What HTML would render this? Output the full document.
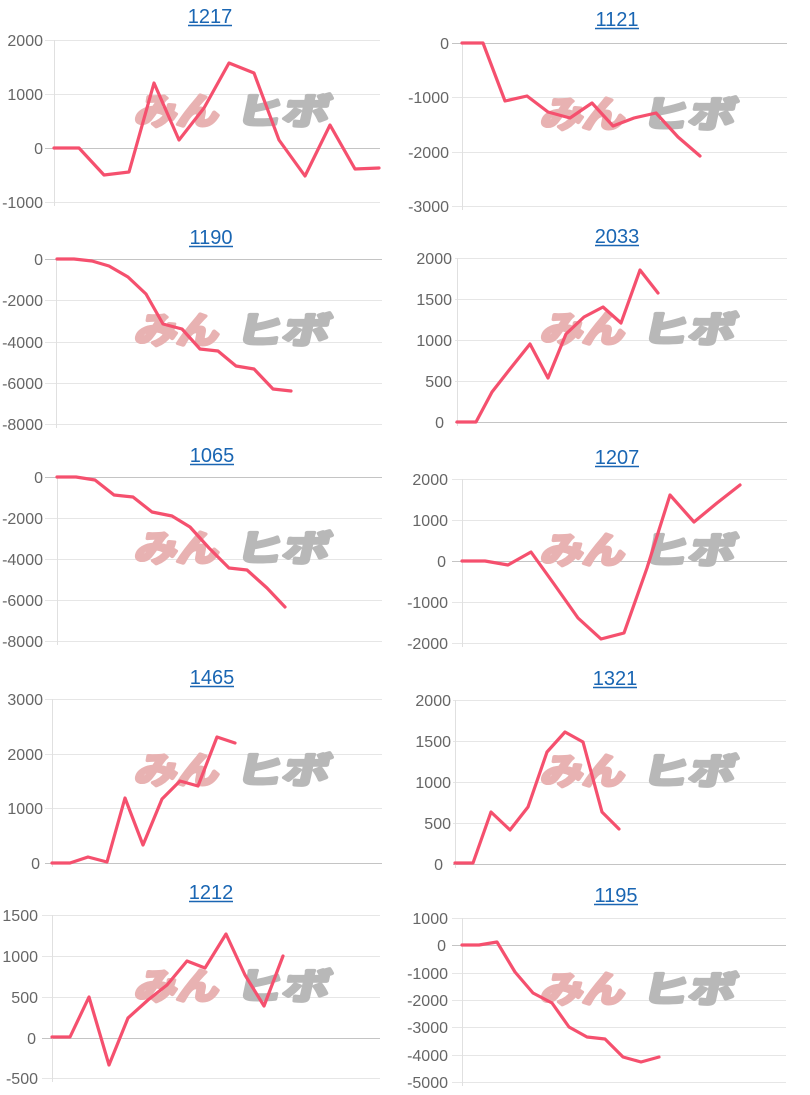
<!DOCTYPE html>
<html><head><meta charset="utf-8"><style>
html,body{margin:0;padding:0;background:#fff;}
svg{display:block;}
.g{stroke:#e6e6e6;stroke-width:1;}
.z{stroke:#c4c4c4;stroke-width:1;}
.ax{stroke:#e0e0e0;stroke-width:1;}
.l{font-family:"Liberation Sans",Arial,sans-serif;font-size:16px;fill:#666;text-anchor:end;}
.t{font-family:"Liberation Sans",Arial,sans-serif;font-size:20px;fill:#1a66b3;text-anchor:middle;}
.u{stroke:#1a66b3;stroke-width:1.5;}
.ln{fill:none;stroke:#f5506e;stroke-width:3.2;stroke-linejoin:round;stroke-linecap:round;}
.wp{font-family:"Noto Sans CJK JP","WenQuanYi Zen Hei",sans-serif;font-weight:700;font-size:36px;fill:#e8b2b2;stroke:#e8b2b2;stroke-width:3.5;stroke-linejoin:round;}
.wg{font-family:"Noto Sans CJK JP","WenQuanYi Zen Hei",sans-serif;font-weight:700;font-size:36px;fill:#b8b8b8;stroke:#b8b8b8;stroke-width:3.5;stroke-linejoin:round;}
</style></head><body>
<svg width="810" height="1095" viewBox="0 0 810 1095" xmlns="http://www.w3.org/2000/svg">

<!-- Chart 1: 1217 -->
<g>
<text class="t" x="210" y="23">1217</text><line class="u" x1="188" y1="25.5" x2="232" y2="25.5"/>
<line class="g" x1="45" y1="40.5" x2="380" y2="40.5"/>
<line class="g" x1="45" y1="94.5" x2="380" y2="94.5"/>
<line class="z" x1="45" y1="148.5" x2="380" y2="148.5"/>
<line class="g" x1="45" y1="202.5" x2="380" y2="202.5"/>
<line class="ax" x1="54.5" y1="40" x2="54.5" y2="206"/>
<text class="l" x="43" y="46">2000</text>
<text class="l" x="43" y="100">1000</text>
<text class="l" x="43" y="154">0</text>
<text class="l" x="43" y="208">-1000</text>
<g transform="translate(132,94)"><text class="wp" x="8" y="30" textLength="84" lengthAdjust="spacingAndGlyphs" transform="skewX(-12)">みん</text><text class="wg" x="109" y="30" textLength="93" lengthAdjust="spacingAndGlyphs" transform="skewX(-12)">ヒボ</text></g>
<polyline class="ln" points="54,148 79,148 104,175 129,172 154,83 179,140 204,108 229,63 254,73 279,140 305,176 330,125 355,169 379,168"/>
</g>

<!-- Chart 2: 1121 -->
<g>
<text class="t" x="617" y="26">1121</text><line class="u" x1="595" y1="28.5" x2="639" y2="28.5"/>
<line class="z" x1="452" y1="43.5" x2="787" y2="43.5"/>
<line class="g" x1="452" y1="97.5" x2="787" y2="97.5"/>
<line class="g" x1="452" y1="152.5" x2="787" y2="152.5"/>
<line class="g" x1="452" y1="206.5" x2="787" y2="206.5"/>
<line class="ax" x1="462.5" y1="43" x2="462.5" y2="210"/>
<text class="l" x="449" y="49">0</text>
<text class="l" x="449" y="103">-1000</text>
<text class="l" x="449" y="158">-2000</text>
<text class="l" x="449" y="212">-3000</text>
<g transform="translate(538,97)"><text class="wp" x="8" y="30" textLength="84" lengthAdjust="spacingAndGlyphs" transform="skewX(-12)">みん</text><text class="wg" x="109" y="30" textLength="93" lengthAdjust="spacingAndGlyphs" transform="skewX(-12)">ヒボ</text></g>
<polyline class="ln" points="462,43 483,43 505,101 527,96 548,112 570,118 592,103 613,126 634,118 656,113 678,137 700,156"/>
</g>

<!-- Chart 3: 1190 -->
<g>
<text class="t" x="211" y="244">1190</text><line class="u" x1="189" y1="246.5" x2="233" y2="246.5"/>
<line class="z" x1="45" y1="259.5" x2="382" y2="259.5"/>
<line class="g" x1="45" y1="300.5" x2="382" y2="300.5"/>
<line class="g" x1="45" y1="342.5" x2="382" y2="342.5"/>
<line class="g" x1="45" y1="383.5" x2="382" y2="383.5"/>
<line class="g" x1="45" y1="424.5" x2="382" y2="424.5"/>
<line class="ax" x1="56.5" y1="259" x2="56.5" y2="428"/>
<text class="l" x="43" y="265">0</text>
<text class="l" x="43" y="306">-2000</text>
<text class="l" x="43" y="348">-4000</text>
<text class="l" x="43" y="389">-6000</text>
<text class="l" x="43" y="430">-8000</text>
<g transform="translate(132,313)"><text class="wp" x="8" y="30" textLength="84" lengthAdjust="spacingAndGlyphs" transform="skewX(-12)">みん</text><text class="wg" x="109" y="30" textLength="93" lengthAdjust="spacingAndGlyphs" transform="skewX(-12)">ヒボ</text></g>
<polyline class="ln" points="57,259 74,259 92,261 109,266 128,277 146,294 163,324 182,329 200,349 218,351 236,366 254,369 273,389 291,391"/>
</g>

<!-- Chart 4: 2033 -->
<g>
<text class="t" x="617" y="243">2033</text><line class="u" x1="595" y1="245.5" x2="639" y2="245.5"/>
<line class="g" x1="455" y1="258.5" x2="787" y2="258.5"/>
<line class="g" x1="455" y1="299.5" x2="787" y2="299.5"/>
<line class="g" x1="455" y1="340.5" x2="787" y2="340.5"/>
<line class="g" x1="455" y1="381.5" x2="787" y2="381.5"/>
<line class="z" x1="455" y1="422.5" x2="787" y2="422.5"/>
<line class="ax" x1="457.5" y1="258" x2="457.5" y2="426"/>
<text class="l" x="452" y="264">2000</text>
<text class="l" x="452" y="305">1500</text>
<text class="l" x="452" y="346">1000</text>
<text class="l" x="452" y="387">500</text>
<text class="l" x="444" y="428">0</text>
<g transform="translate(538,312)"><text class="wp" x="8" y="30" textLength="84" lengthAdjust="spacingAndGlyphs" transform="skewX(-12)">みん</text><text class="wg" x="109" y="30" textLength="93" lengthAdjust="spacingAndGlyphs" transform="skewX(-12)">ヒボ</text></g>
<polyline class="ln" points="457,422 476,422 492,392 510,369 530,344 548,378 566,334 584,317 603,307 621,323 640,270 658,293"/>
</g>

<!-- Chart 5: 1065 -->
<g>
<text class="t" x="212" y="462">1065</text><line class="u" x1="190" y1="464.5" x2="234" y2="464.5"/>
<line class="z" x1="45" y1="477.5" x2="382" y2="477.5"/>
<line class="g" x1="45" y1="518.5" x2="382" y2="518.5"/>
<line class="g" x1="45" y1="559.5" x2="382" y2="559.5"/>
<line class="g" x1="45" y1="600.5" x2="382" y2="600.5"/>
<line class="g" x1="45" y1="641.5" x2="382" y2="641.5"/>
<line class="ax" x1="57.5" y1="477" x2="57.5" y2="645"/>
<text class="l" x="43" y="483">0</text>
<text class="l" x="43" y="524">-2000</text>
<text class="l" x="43" y="565">-4000</text>
<text class="l" x="43" y="606">-6000</text>
<text class="l" x="43" y="647">-8000</text>
<g transform="translate(132,531)"><text class="wp" x="8" y="30" textLength="84" lengthAdjust="spacingAndGlyphs" transform="skewX(-12)">みん</text><text class="wg" x="109" y="30" textLength="93" lengthAdjust="spacingAndGlyphs" transform="skewX(-12)">ヒボ</text></g>
<polyline class="ln" points="57,477 76,477 95,480 114,495 133,497 152,512 172,516 190,527 209,548 229,568 247,570 267,588 285,607"/>
</g>

<!-- Chart 6: 1207 -->
<g>
<text class="t" x="617" y="464">1207</text><line class="u" x1="595" y1="466.5" x2="639" y2="466.5"/>
<line class="g" x1="452" y1="479.5" x2="787" y2="479.5"/>
<line class="g" x1="452" y1="520.5" x2="787" y2="520.5"/>
<line class="z" x1="452" y1="561.5" x2="787" y2="561.5"/>
<line class="g" x1="452" y1="602.5" x2="787" y2="602.5"/>
<line class="g" x1="452" y1="643.5" x2="787" y2="643.5"/>
<line class="ax" x1="462.5" y1="479" x2="462.5" y2="647"/>
<text class="l" x="448" y="485">2000</text>
<text class="l" x="448" y="526">1000</text>
<text class="l" x="446" y="567">0</text>
<text class="l" x="448" y="608">-1000</text>
<text class="l" x="448" y="649">-2000</text>
<g transform="translate(538,533)"><text class="wp" x="8" y="30" textLength="84" lengthAdjust="spacingAndGlyphs" transform="skewX(-12)">みん</text><text class="wg" x="109" y="30" textLength="93" lengthAdjust="spacingAndGlyphs" transform="skewX(-12)">ヒボ</text></g>
<polyline class="ln" points="462,561 485,561 508,565 531,552 554,584 578,618 601,639 624,633 647,568 670,495 694,522 717,503 740,485"/>
</g>

<!-- Chart 7: 1465 -->
<g>
<text class="t" x="212" y="684">1465</text><line class="u" x1="190" y1="686.5" x2="234" y2="686.5"/>
<line class="g" x1="45" y1="699.5" x2="382" y2="699.5"/>
<line class="g" x1="45" y1="754.5" x2="382" y2="754.5"/>
<line class="g" x1="45" y1="808.5" x2="382" y2="808.5"/>
<line class="z" x1="45" y1="863.5" x2="382" y2="863.5"/>
<line class="ax" x1="52.5" y1="699" x2="52.5" y2="867"/>
<text class="l" x="43" y="705">3000</text>
<text class="l" x="43" y="760">2000</text>
<text class="l" x="43" y="814">1000</text>
<text class="l" x="40" y="869">0</text>
<g transform="translate(132,753)"><text class="wp" x="8" y="30" textLength="84" lengthAdjust="spacingAndGlyphs" transform="skewX(-12)">みん</text><text class="wg" x="109" y="30" textLength="93" lengthAdjust="spacingAndGlyphs" transform="skewX(-12)">ヒボ</text></g>
<polyline class="ln" points="52,863 70,863 88,857 107,862 125,798 143,845 162,799 180,781 198,786 217,737 235,743"/>
</g>

<!-- Chart 8: 1321 -->
<g>
<text class="t" x="615" y="685">1321</text><line class="u" x1="593" y1="687.5" x2="637" y2="687.5"/>
<line class="g" x1="453" y1="700.5" x2="786" y2="700.5"/>
<line class="g" x1="453" y1="741.5" x2="786" y2="741.5"/>
<line class="g" x1="453" y1="782.5" x2="786" y2="782.5"/>
<line class="g" x1="453" y1="823.5" x2="786" y2="823.5"/>
<line class="z" x1="453" y1="864.5" x2="786" y2="864.5"/>
<line class="ax" x1="455.5" y1="700" x2="455.5" y2="868"/>
<text class="l" x="451" y="706">2000</text>
<text class="l" x="451" y="747">1500</text>
<text class="l" x="451" y="788">1000</text>
<text class="l" x="451" y="829">500</text>
<text class="l" x="443" y="870">0</text>
<g transform="translate(538,754)"><text class="wp" x="8" y="30" textLength="84" lengthAdjust="spacingAndGlyphs" transform="skewX(-12)">みん</text><text class="wg" x="109" y="30" textLength="93" lengthAdjust="spacingAndGlyphs" transform="skewX(-12)">ヒボ</text></g>
<polyline class="ln" points="455,863 473,863 491,812 510,830 528,807 547,752 565,732 583,742 602,812 619,829"/>
</g>

<!-- Chart 9: 1212 -->
<g>
<text class="t" x="211" y="899">1212</text><line class="u" x1="189" y1="901.5" x2="233" y2="901.5"/>
<line class="g" x1="42" y1="915.5" x2="380" y2="915.5"/>
<line class="g" x1="42" y1="956.5" x2="380" y2="956.5"/>
<line class="g" x1="42" y1="997.5" x2="380" y2="997.5"/>
<line class="z" x1="42" y1="1038.5" x2="380" y2="1038.5"/>
<line class="g" x1="42" y1="1078.5" x2="380" y2="1078.5"/>
<line class="ax" x1="52.5" y1="915" x2="52.5" y2="1082"/>
<text class="l" x="38" y="921">1500</text>
<text class="l" x="38" y="962">1000</text>
<text class="l" x="38" y="1003">500</text>
<text class="l" x="36" y="1044">0</text>
<text class="l" x="38" y="1084">-500</text>
<g transform="translate(132,969)"><text class="wp" x="8" y="30" textLength="84" lengthAdjust="spacingAndGlyphs" transform="skewX(-12)">みん</text><text class="wg" x="109" y="30" textLength="93" lengthAdjust="spacingAndGlyphs" transform="skewX(-12)">ヒボ</text></g>
<polyline class="ln" points="52,1037 70,1037 89,997 109,1065 128,1018 148,1000 167,985 187,961 205,968 226,934 245,975 264,1006 283,956"/>
</g>

<!-- Chart 10: 1195 -->
<g>
<text class="t" x="616" y="902">1195</text><line class="u" x1="594" y1="904.5" x2="638" y2="904.5"/>
<line class="g" x1="452" y1="918.5" x2="786" y2="918.5"/>
<line class="z" x1="452" y1="945.5" x2="786" y2="945.5"/>
<line class="g" x1="452" y1="973.5" x2="786" y2="973.5"/>
<line class="g" x1="452" y1="1000.5" x2="786" y2="1000.5"/>
<line class="g" x1="452" y1="1027.5" x2="786" y2="1027.5"/>
<line class="g" x1="452" y1="1055.5" x2="786" y2="1055.5"/>
<line class="g" x1="452" y1="1082.5" x2="786" y2="1082.5"/>
<line class="ax" x1="462.5" y1="918" x2="462.5" y2="1086"/>
<text class="l" x="448" y="924">1000</text>
<text class="l" x="446" y="951">0</text>
<text class="l" x="448" y="979">-1000</text>
<text class="l" x="448" y="1006">-2000</text>
<text class="l" x="448" y="1033">-3000</text>
<text class="l" x="448" y="1061">-4000</text>
<text class="l" x="448" y="1088">-5000</text>
<g transform="translate(538,972)"><text class="wp" x="8" y="30" textLength="84" lengthAdjust="spacingAndGlyphs" transform="skewX(-12)">みん</text><text class="wg" x="109" y="30" textLength="93" lengthAdjust="spacingAndGlyphs" transform="skewX(-12)">ヒボ</text></g>
<polyline class="ln" points="462,945 479,945 497,942 515,972 533,993 552,1003 569,1027 587,1037 605,1039 623,1057 641,1062 659,1057"/>
</g>

</svg>
</body></html>
